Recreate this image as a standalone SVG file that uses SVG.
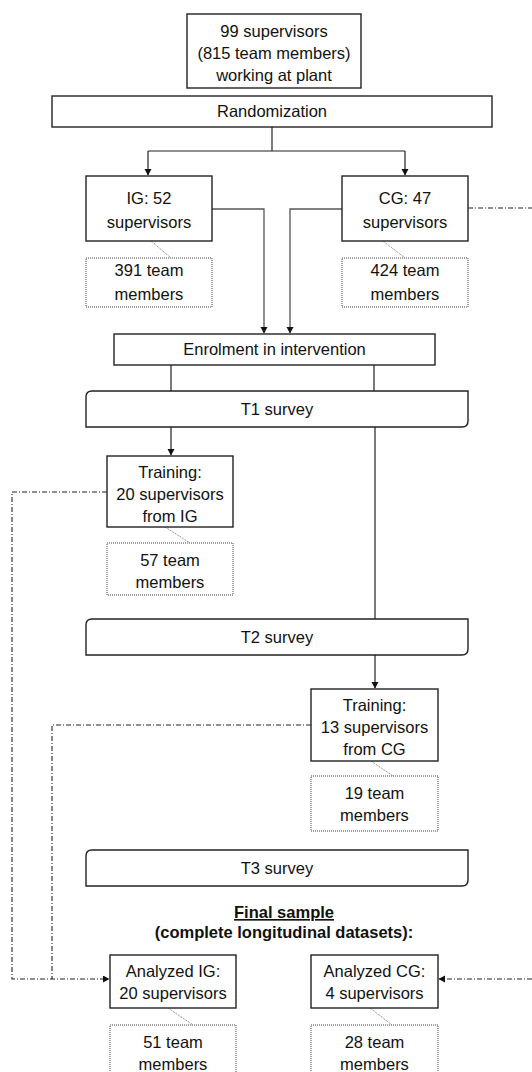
<svg xmlns="http://www.w3.org/2000/svg" width="532" height="1072" viewBox="0 0 532 1072">
<defs>
<marker id="arr" markerWidth="8" markerHeight="8" refX="6" refY="3.5" orient="auto" markerUnits="userSpaceOnUse">
<path d="M0,0 L6.5,3.5 L0,7 Z" fill="#111"/>
</marker>
<style>
text{font-family:"Liberation Sans",Arial,sans-serif;font-size:16.5px;fill:#111;text-anchor:middle}
.box{fill:#fff;stroke:#222;stroke-width:1.4}
.dot{fill:#fff;stroke:#444;stroke-width:1;stroke-dasharray:1 1}
.ln{fill:none;stroke:#222;stroke-width:1.2}
.gl{fill:none;stroke:#555;stroke-width:1.3}
.dd{fill:none;stroke:#222;stroke-width:1.1;stroke-dasharray:5 2 1 2}
.dg{fill:none;stroke:#555;stroke-width:0.8;stroke-dasharray:1 1}
.b{font-weight:bold}
</style>
</defs>
<rect width="532" height="1072" fill="#fff"/>
<g id="connectors">
<path class="ln" d="M272,127 V151"/>
<path class="ln" d="M148,151 H405"/>
<path class="ln" d="M148,151 V175" marker-end="url(#arr)"/>
<path class="ln" d="M405,151 V175" marker-end="url(#arr)"/>
<path class="gl" d="M212,209 H264 V333" marker-end="url(#arr)"/>
<path class="gl" d="M342,209 H290 V333" marker-end="url(#arr)"/>
<path class="dd" d="M468,208 H532"/>
<path class="ln" d="M171,365 V391"/>
<path class="ln" d="M374,365 V391"/>
<path class="ln" d="M171,427 V455" marker-end="url(#arr)"/>
<path class="ln" d="M375,427 V619"/>
<path class="ln" d="M375,655 V688" marker-end="url(#arr)"/>
<path class="dd" d="M107,492 H12 V979 H109" marker-end="url(#arr)"/>
<path class="dd" d="M311,725 H52 V979"/>
<path class="dd" d="M532,979 H439" marker-end="url(#arr)"/>
<path class="dg" d="M151,241 L171,258"/>
<path class="dg" d="M383,241 L405,258"/>
<path class="dg" d="M165,527 L190,543"/>
<path class="dg" d="M371,761 L393,776"/>
<path class="dg" d="M168,1008 L193,1025"/>
<path class="dg" d="M370,1008 L392,1025"/>
</g>
<g id="start">
<rect class="box" x="187" y="14" width="174" height="74"/>
<text x="274" y="37">99 supervisors</text>
<text x="274" y="59">(815 team members)</text>
<text x="274" y="81">working at plant</text>
</g>
<g id="randomization">
<rect class="box" x="52" y="96" width="440" height="31"/>
<text x="272" y="117">Randomization</text>
</g>
<g id="ig">
<rect class="box" x="86" y="176" width="126" height="65"/>
<text x="149" y="204">IG: 52</text>
<text x="149" y="228">supervisors</text>
</g>
<g id="ig-team">
<rect class="dot" x="86" y="258" width="126" height="49"/>
<text x="149" y="276">391 team</text>
<text x="149" y="300">members</text>
</g>
<g id="cg">
<rect class="box" x="342" y="176" width="126" height="65"/>
<text x="405" y="204">CG: 47</text>
<text x="405" y="228">supervisors</text>
</g>
<g id="cg-team">
<rect class="dot" x="342" y="258" width="126" height="49"/>
<text x="405" y="276">424 team</text>
<text x="405" y="300">members</text>
</g>
<g id="enrolment">
<rect class="box" x="114" y="334" width="321" height="31"/>
<text x="274.5" y="355">Enrolment in intervention</text>
</g>
<g id="t1">
<path class="box" d="M92,391 H468 V421 Q468,427 462,427 H86 V397 Q86,391 92,391 Z"/>
<text x="277" y="415">T1 survey</text>
</g>
<g id="training-ig">
<rect class="box" x="107" y="456" width="126" height="71"/>
<text x="170" y="478">Training:</text>
<text x="170" y="500">20 supervisors</text>
<text x="170" y="522">from IG</text>
</g>
<g id="training-ig-team">
<rect class="dot" x="107" y="543" width="126" height="52"/>
<text x="170" y="566">57 team</text>
<text x="170" y="588">members</text>
</g>
<g id="t2">
<path class="box" d="M92,619 H468 V649 Q468,655 462,655 H86 V625 Q86,619 92,619 Z"/>
<text x="277" y="643">T2 survey</text>
</g>
<g id="training-cg">
<rect class="box" x="311" y="689" width="127" height="72"/>
<text x="374.5" y="711">Training:</text>
<text x="374.5" y="733">13 supervisors</text>
<text x="374.5" y="755">from CG</text>
</g>
<g id="training-cg-team">
<rect class="dot" x="311" y="776" width="127" height="55"/>
<text x="374.5" y="799">19 team</text>
<text x="374.5" y="821">members</text>
</g>
<g id="t3">
<path class="box" d="M92,850 H468 V880 Q468,886 462,886 H86 V856 Q86,850 92,850 Z"/>
<text x="277" y="874">T3 survey</text>
</g>
<g id="final-sample">
<text class="b" x="284" y="918" text-decoration="underline">Final sample</text>
<text class="b" x="284" y="938">(complete longitudinal datasets):</text>
</g>
<g id="analyzed-ig">
<rect class="box" x="110" y="955" width="126" height="53"/>
<text x="173" y="977">Analyzed IG:</text>
<text x="173" y="999">20 supervisors</text>
</g>
<g id="analyzed-ig-team">
<rect class="dot" x="110" y="1025" width="126" height="60"/>
<text x="173" y="1048">51 team</text>
<text x="173" y="1070">members</text>
</g>
<g id="analyzed-cg">
<rect class="box" x="311" y="955" width="127" height="53"/>
<text x="374.5" y="977">Analyzed CG:</text>
<text x="374.5" y="999">4 supervisors</text>
</g>
<g id="analyzed-cg-team">
<rect class="dot" x="311" y="1025" width="127" height="60"/>
<text x="374.5" y="1048">28 team</text>
<text x="374.5" y="1070">members</text>
</g>
</svg>
